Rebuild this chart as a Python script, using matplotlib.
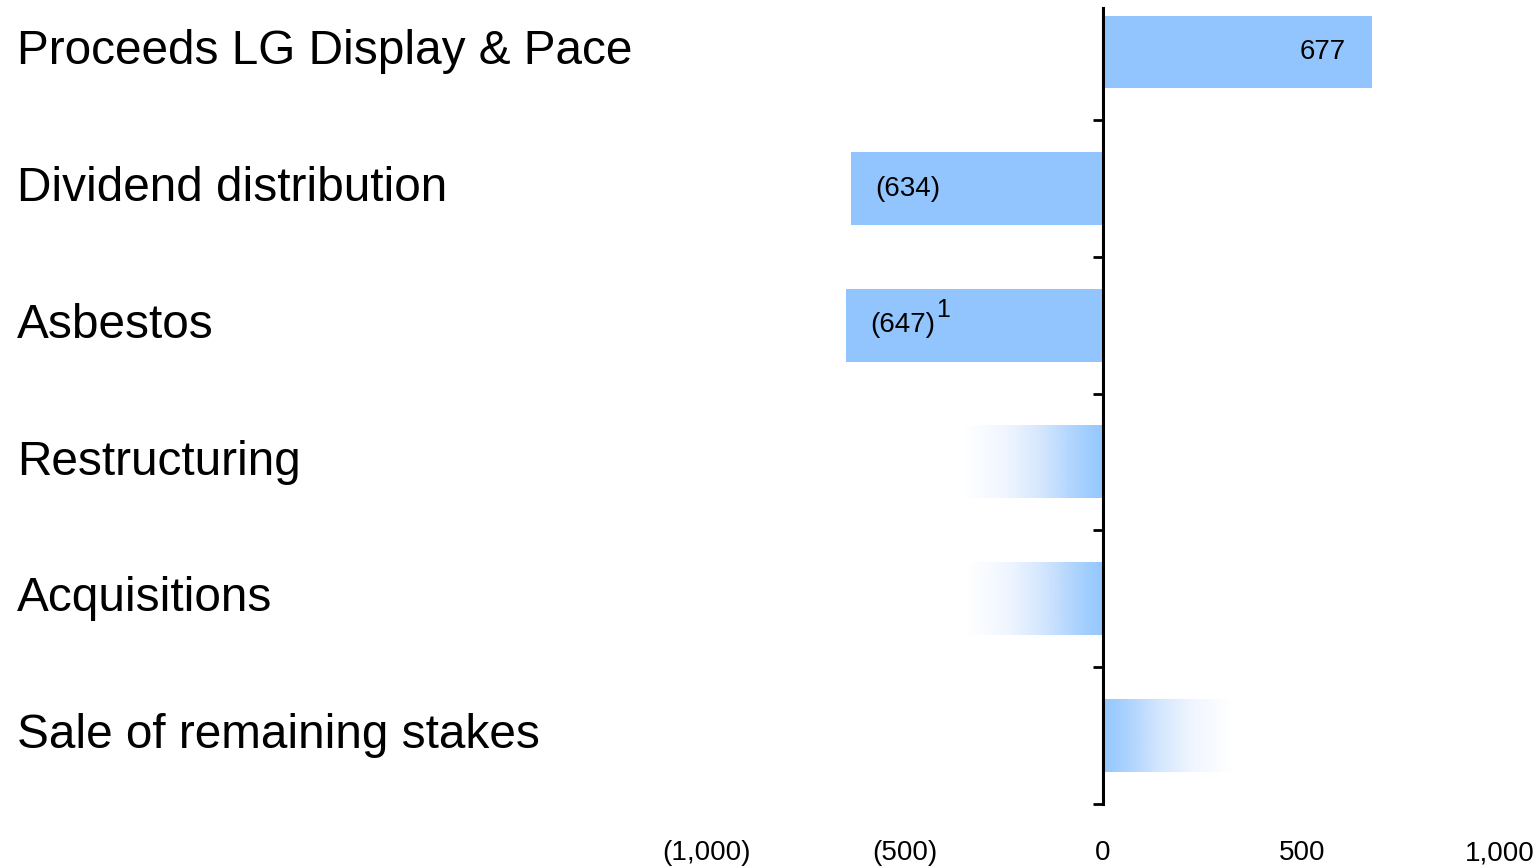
""" Grafica de barras horizontales: flujos de caja """

import numpy as np
import matplotlib
matplotlib.use("Agg")
import matplotlib.pyplot as plt
from matplotlib.colors import LinearSegmentedColormap

plt.rcParams["font.family"] = ["Liberation Sans", "DejaVu Sans"]

CATEGORIAS = [
  "Proceeds LG Display & Pace",
  "Dividend distribution",
  "Asbestos",
  "Restructuring",
  "Acquisitions",
  "Sale of remaining stakes",
]
VALORES = [677, -634, -647, -350, -342, 320]
SOLIDAS = [True, True, True, False, False, False]  # False -> barra degradada
ETIQUETAS = ["677", "(634)", "(647)", "", "", ""]
NOTA = ["", "", "1", "", "", ""]

TICKS_X = [-1000, -500, 0, 500, 1000]
TICKS_X_TXT = ["(1,000)", "(500)", "0", "500", "1,000"]

AZUL = "#92C5FE"
ALTO = 0.53

fig = plt.figure(figsize=(15.37, 8.67), dpi=100)
ax = fig.add_axes([706 / 1537, 1 - 804 / 867, 826 / 1537, 796 / 867])

degradado = LinearSegmentedColormap.from_list(
  "deg", [(0.0, "#ffffff"), (0.3, "#f0f6ff"), (0.55, "#d5e7fe"),
          (0.75, "#b5d7fe"), (0.9, "#9fcdff"), (1.0, "#94c6fe")])
grad = np.linspace(0, 1, 256).reshape(1, -1)

for i, (v, solida) in enumerate(zip(VALORES, SOLIDAS)):
  if solida:
    ax.barh(i, v, height=ALTO, color=AZUL, zorder=1)
  else:
    img = grad if v < 0 else grad[:, ::-1]
    ax.imshow(img, cmap=degradado, aspect="auto", zorder=1,
              interpolation="bilinear",
              extent=(min(0, v), max(0, v), i + ALTO / 2, i - ALTO / 2))

# etiquetas de valor
for i, (v, txt, nota) in enumerate(zip(VALORES, ETIQUETAS, NOTA)):
  if not txt:
    continue
  if v > 0:
    t = ax.text(v - 65, i, txt, ha="right", va="center", fontsize=20)
  else:
    t = ax.text(v + 60, i, txt, ha="left", va="center", fontsize=20)
  if nota:
    ax.annotate(nota, xy=(1, 0.62), xycoords=t, xytext=(1, 0),
                textcoords="offset points", ha="left", va="bottom", fontsize=18)

# nombres de categoria a la izquierda
trans = matplotlib.transforms.blended_transform_factory(fig.transFigure, ax.transData)
for i, nombre in enumerate(CATEGORIAS):
  ax.text(17 / 1537, i, nombre, transform=trans, ha="left", va="center",
          fontsize=34.4)

ax.set_xlim(-1000, 1080)
ax.set_ylim(len(CATEGORIAS) - 0.5, -0.32)

for s in ["top", "right", "bottom"]:
  ax.spines[s].set_visible(False)
ax.spines["left"].set_position(("data", 0))
ax.spines["left"].set_linewidth(2.2)
ax.spines["left"].set_zorder(3)

ax.set_yticks(np.arange(len(CATEGORIAS)) + 0.5)
ax.set_yticklabels([])
ax.tick_params(axis="y", direction="out", length=7.5, width=2)

ax.set_xticks(TICKS_X)
ax.set_xticklabels(TICKS_X_TXT)
ax.tick_params(axis="x", length=0, pad=26, labelsize=20)

fig.savefig("out.png", dpi=100)
